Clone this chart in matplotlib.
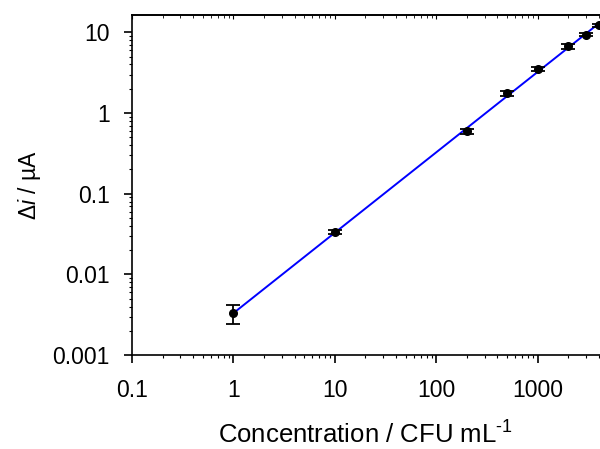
import numpy as np
import matplotlib
matplotlib.use("Agg")
import matplotlib.pyplot as plt
from matplotlib.ticker import LogLocator, FixedLocator, FixedFormatter, NullFormatter

plt.rcParams["font.family"] = ["Liberation Sans", "DejaVu Sans"]
plt.rcParams["mathtext.fontset"] = "custom"
plt.rcParams["mathtext.rm"] = "Liberation Sans"
plt.rcParams["mathtext.it"] = "Liberation Sans:italic"

# calibration data
conc = [1, 10, 200, 500, 1000, 2000, 3000, 4000]
delta_i = [0.0033, 0.0333, 0.594, 1.76, 3.48, 6.7, 9.4, 12.2]
err = [0.0009, 0.002, 0.04, 0.12, 0.2, 0.4, 0.5, 0.6]

x_ticks = [0.1, 1, 10, 100, 1000]
x_labels = ["0.1", "1", "10", "100", "1000"]
y_ticks = [0.001, 0.01, 0.1, 1, 10]
y_labels = ["0.001", "0.01", "0.1", "1", "10"]

# log-log linear fit
slope, icpt = np.polyfit(np.log10(conc), np.log10(delta_i), 1)
fit_x = np.logspace(0, np.log10(4100), 50)
fit_y = 10 ** (icpt + slope * np.log10(fit_x))

fig = plt.figure(figsize=(6, 4.49), dpi=100)
ax = fig.add_axes([0.22, 0.209, 0.78, 0.758])

ax.plot(fit_x, fit_y, color="#0000ff", lw=1.4, zorder=2)
ax.errorbar(conc, delta_i, yerr=err, fmt="o", color="black", ms=5.5,
            capsize=5, elinewidth=1.3, capthick=1.3, zorder=3)

ax.set_xscale("log")
ax.set_yscale("log")
ax.set_xlim(0.1, 4100)
ax.set_ylim(0.001, 16.5)

ax.xaxis.set_major_locator(FixedLocator(x_ticks))
ax.xaxis.set_major_formatter(FixedFormatter(x_labels))
ax.yaxis.set_major_locator(FixedLocator(y_ticks))
ax.yaxis.set_major_formatter(FixedFormatter(y_labels))
ax.xaxis.set_minor_locator(LogLocator(base=10, subs=np.arange(2, 10)))
ax.yaxis.set_minor_locator(LogLocator(base=10, subs=np.arange(2, 10)))
ax.xaxis.set_minor_formatter(NullFormatter())
ax.yaxis.set_minor_formatter(NullFormatter())

ax.tick_params(which="major", direction="out", length=6, width=1.2,
               labelsize=16.5)
ax.tick_params(axis="x", which="major", pad=11)
ax.tick_params(axis="y", which="major", pad=10)
ax.tick_params(which="minor", direction="out", length=2.5, width=0.8)

top = ax.secondary_xaxis("top")
top.xaxis.set_major_locator(FixedLocator(x_ticks))
top.xaxis.set_minor_locator(LogLocator(base=10, subs=np.arange(2, 10)))
top.xaxis.set_major_formatter(NullFormatter())
top.xaxis.set_minor_formatter(NullFormatter())
top.tick_params(which="major", direction="in", length=3, width=0.8)
top.tick_params(which="minor", direction="in", length=2, width=0.6)
top.spines["top"].set_linewidth(1.2)

for s in ax.spines.values():
    s.set_linewidth(1.2)
ax.spines["right"].set_visible(False)

ax.set_xlabel(r"Concentration / CFU mL$^{\text{-}1}$", fontsize=18.5, labelpad=14)
ax.set_ylabel(r"$\Delta\mathit{i}$ / µA", fontsize=16.5, labelpad=7)

fig.savefig("out.png", dpi=100)
